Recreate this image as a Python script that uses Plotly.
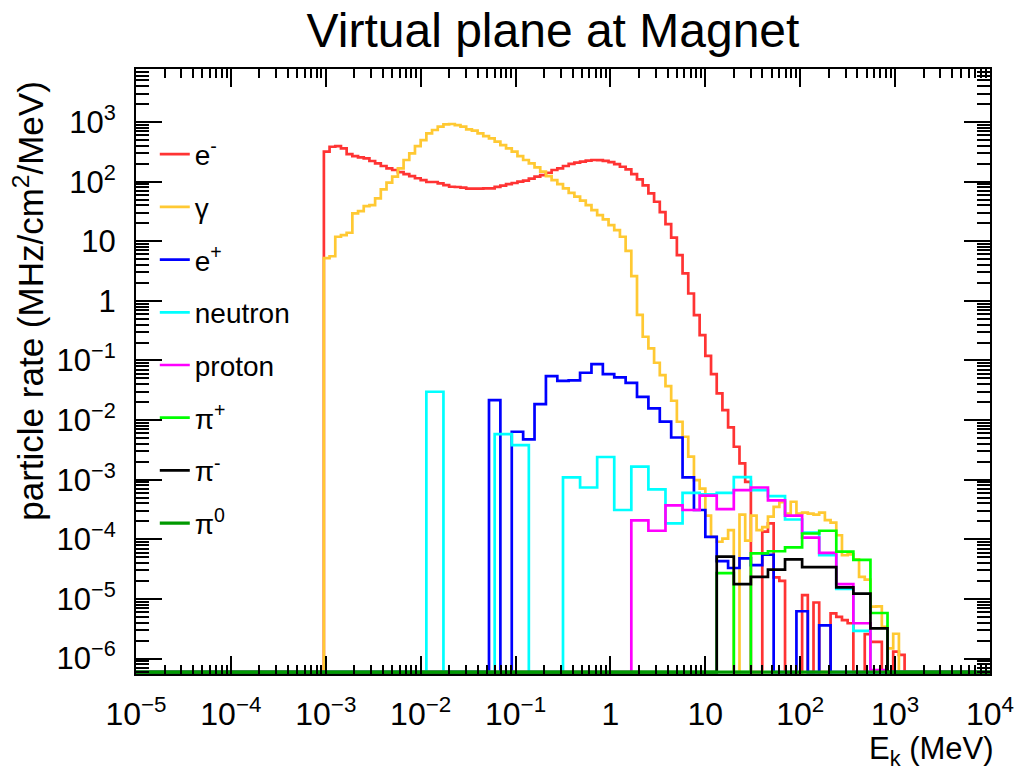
import numpy as np
import plotly.graph_objects as go

# ---------------- data (rates in MHz/cm^2/MeV) ----------------
# Histogram binning: log-uniform between 1e-5 and 1e4 MeV
LOG_EMIN, LOG_EMAX = -5.0, 4.0
NBINS_FINE = 150      # e-, gamma
NBINS_POS = 75        # e+
NBINS_HAD = 50        # neutron, proton, pions

# e- : fine bins starting at bin 33
electron_first = 33
electron = [318, 385, 395, 361, 290, 269, 255, 246, 222, 203,
            183, 167, 157, 145, 134, 124, 114, 106, 98.6, 98.6,
            93.5, 87.7, 82.2, 81.3, 79.2, 76.2, 76.2, 76.2, 77, 77,
            82, 85.5, 91.2, 95, 100, 104, 112, 121, 129, 141,
            157, 167, 183, 198, 208, 216, 225, 231, 230, 224,
            213, 197, 178, 161, 134, 109, 86.5, 63.5, 46, 30.9,
            19.4, 11.5, 5.87, 2.89, 1.33, 0.578, 0.267, 0.119, 0.0592, 0.028,
            0.0147, 0.00754, 0.00357, 0.00188, 9.2e-4, 0, 0, 1.34e-4, 1.85e-4, 2.3e-5,
            2.0e-5, 0, 0, 0, 1.16e-5, 0, 8.7e-6, 0, 0, 5.7e-6,
            5.0e-6, 4.4e-6, 3.9e-6, 0, 0, 2.57e-6, 1.9e-6, 1.9e-6, 0, 0,
            1.3e-6, 1.15e-6]

# gamma : fine bins starting at bin 33
gamma_first = 33
gamma = [5.2, 5.6, 11.9, 12.7, 13.9, 29.4, 32.1, 39, 40.5, 52.5,
         74.3, 96, 121, 167, 231, 299, 396, 499, 646, 735,
         836, 915, 927, 891, 836, 754, 716, 646, 582, 532,
         468, 411, 361, 318, 269, 231, 203, 174, 147, 124,
         106, 91, 77, 65, 56, 48, 40.5, 33.4, 27.5, 23.3,
         18.7, 15.4, 11.9, 6.9, 2.6, 0.58, 0.25, 0.159, 0.0916, 0.0569,
         0.0372, 0.0211, 0.00937, 0.00525, 0.00243, 9.8e-4, 7.1e-4, 2.5e-4, 1.1e-4, 9.1e-5,
         1.03e-4, 1.43e-4, 0, 2.6e-4, 9.5e-5, 2.5e-4, 1.43e-4, 1.6e-4, 2.4e-4, 3.5e-4,
         4.2e-4, 2.7e-4, 4.26e-4, 2.7e-4, 2.8e-4, 2.7e-4, 2.6e-4, 2.8e-4, 2.1e-4, 1.9e-4,
         1.17e-4, 5.4e-5, 5.6e-5, 4.6e-5, 2.35e-5, 2.1e-5, 7.4e-6, 7.5e-6, 3.4e-6, 1.48e-6,
         2.6e-6]

# e+ : positron bins starting at bin 31
positron_first = 31
positron = [0.0216, 0, 0.00637, 0.00473, 0.0185, 0.0547, 0.0456, 0.0464, 0.0622, 0.0869,
            0.059, 0.052, 0.042, 0.0246, 0.0157, 0.0094, 0.0051, 0.00109, 3.1e-4, 1.1e-4,
            4.3e-5, 3.3e-5, 4.8e-5, 3.7e-5, 5.5e-5, 0, 0, 6.2e-6, 0, 3.6e-6]

# neutron : hadron bins starting at bin 17
neutron_first = 17
neutron = [0.0299, 0, 0, 0, 0.00582, 0.0038, 0, 0, 0.00109, 7.4e-4,
           0.0024, 3.1e-4, 0.00166, 6.9e-4, 1.85e-4, 6.0e-4, 5.7e-4, 6.0e-4, 1.1e-3, 6.7e-4,
           5.3e-4, 2.15e-4, 1.29e-4, 5.4e-5, 1.47e-5, 2.9e-6]

# proton : hadron bins starting at bin 29
proton_first = 29
proton = [2.07e-4, 1.39e-4, 3.7e-4, 3.1e-4, 5.4e-4, 3.2e-4, 6.7e-4, 7.4e-4, 4.5e-4, 2.5e-4,
          1.07e-4, 5.9e-5, 1.77e-5, 3.9e-6, 6.4e-7]

# pi+ / pi- : hadron bins starting at bin 34
pi_plus_first = 34
pi_plus = [2.7e-5, 0, 5.8e-5, 6.3e-5, 7.3e-5, 1.25e-4, 1.39e-4, 6.2e-5, 4.5e-5, 5.8e-6]
pi_minus_first = 34
pi_minus = [5.1e-5, 1.77e-5, 2.35e-5, 3.1e-5, 4.6e-5, 3.4e-5, 3.4e-5, 1.56e-5, 1.23e-5, 3.2e-6]

# pi0 : empty everywhere
pi_zero_first = 0
pi_zero = []

x_tick_labels = ["10<sup>\u22125</sup>", "10<sup>\u22124</sup>", "10<sup>\u22123</sup>",
                 "10<sup>\u22122</sup>", "10<sup>\u22121</sup>", "1", "10",
                 "10<sup>2</sup>", "10<sup>3</sup>", "10<sup>4</sup>"]
y_tick_labels = ["10<sup>\u22126</sup>", "10<sup>\u22125</sup>", "10<sup>\u22124</sup>",
                 "10<sup>\u22123</sup>", "10<sup>\u22122</sup>", "10<sup>\u22121</sup>",
                 "1", "10", "10<sup>2</sup>", "10<sup>3</sup>"]

# ---------------- styling ----------------
Y_LOG_RANGE = [-6.26, 3.89]
FLOOR = 10 ** (Y_LOG_RANGE[0] + 0.03)   # where empty bins are drawn (log axis bottom)
FONT = "Liberation Sans, Arial, Helvetica, sans-serif"

species = [
    ("e<sup>-</sup>", electron, electron_first, NBINS_FINE, "#ff3333"),
    ("\u03b3", gamma, gamma_first, NBINS_FINE, "#ffc933"),
    ("e<sup>+</sup>", positron, positron_first, NBINS_POS, "#0000ff"),
    ("neutron", neutron, neutron_first, NBINS_HAD, "#00ffff"),
    ("proton", proton, proton_first, NBINS_HAD, "#ff00ff"),
    ("\u03c0<sup>+</sup>", pi_plus, pi_plus_first, NBINS_HAD, "#00ff00"),
    ("\u03c0<sup>-</sup>", pi_minus, pi_minus_first, NBINS_HAD, "#000000"),
    ("\u03c0<sup>0</sup>", pi_zero, pi_zero_first, NBINS_HAD, "#009900"),
]

fig = go.Figure()
for name, vals, first, nb, color in species:
    edges = np.logspace(LOG_EMIN, LOG_EMAX, nb + 1)
    full = np.zeros(nb)
    full[first:first + len(vals)] = vals
    full = np.where(full > 0, full, FLOOR)
    y = np.append(full, full[-1])
    fig.add_trace(go.Scatter(
        x=edges, y=y, mode="lines", name=name, legendgroup=name,
        line=dict(color=color, width=3.2 if name.startswith("\u03c0<sup>0") else 2.7,
                  shape="hv"),
        hoverinfo="skip"))

x_major = [10.0 ** p for p in range(-5, 5)]
x_minor = [m * 10.0 ** p for p in range(-5, 4) for m in range(2, 10)]
y_major = [10.0 ** p for p in range(-6, 4)]
y_minor = [m * 10.0 ** p for p in range(-7, 4) for m in range(2, 10)]

fig.update_xaxes(
    type="log", range=[LOG_EMIN, LOG_EMAX],
    showgrid=False, zeroline=False,
    showline=True, linecolor="black", linewidth=2, mirror="ticks",
    ticks="inside", ticklen=18, tickwidth=1.5, tickcolor="black",
    tickmode="array", tickvals=x_major, ticktext=x_tick_labels,
    tickfont=dict(family=FONT, size=32, color="black"),
    ticklabelstandoff=11,
    minor=dict(ticks="inside", ticklen=9, tickwidth=1.5, tickcolor="black",
               tickmode="array", tickvals=x_minor, showgrid=False),
)
fig.update_yaxes(
    type="log", range=Y_LOG_RANGE,
    showgrid=False, zeroline=False,
    showline=True, linecolor="black", linewidth=2, mirror="ticks",
    ticks="inside", ticklen=26, tickwidth=1.5, tickcolor="black",
    tickmode="array", tickvals=y_major, ticktext=y_tick_labels,
    tickfont=dict(family=FONT, size=31, color="black"),
    ticklabelstandoff=12,
    minor=dict(ticks="inside", ticklen=13, tickwidth=1.5, tickcolor="black",
               tickmode="array", tickvals=y_minor, showgrid=False),
)

fig.update_layout(
    width=1026, height=771,
    margin=dict(l=136, r=30, t=69, b=97),
    plot_bgcolor="white", paper_bgcolor="white",
    font=dict(family=FONT, color="black"),
    title=dict(text="Virtual plane at Magnet", x=553 / 1026, xanchor="center",
               y=1 - 30 / 771, yanchor="middle",
               font=dict(family=FONT, size=48, color="black")),
    showlegend=True,
    legend=dict(x=0.022, y=0.900, xanchor="left", yanchor="top",
                font=dict(family=FONT, size=28, color="black"),
                bgcolor="rgba(0,0,0,0)", borderwidth=0,
                tracegroupgap=13.3, itemwidth=30),
    annotations=[
        dict(text="particle rate (MHz/cm<sup>2</sup>/MeV)", textangle=-90,
             xref="paper", yref="paper", x=-108 / 860, y=1 - 10 / 605,
             xanchor="center", yanchor="top", showarrow=False,
             font=dict(family=FONT, size=35, color="black")),
        dict(text="E<sub>k</sub> (MeV)", xref="paper", yref="paper",
             x=1.0 + 6 / 860, y=-(751 - 674) / 605, xanchor="right", yanchor="middle",
             showarrow=False, font=dict(family=FONT, size=31, color="black")),
    ],
)

fig.write_html("out.html")
